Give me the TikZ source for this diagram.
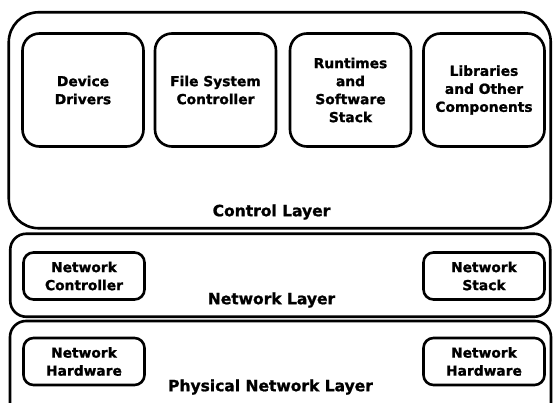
\documentclass[tikz,border=0pt]{standalone}
\usepackage{fontspec}
\setmainfont[BoldFeatures={FakeBold=1.2}]{DejaVu Sans}
\begin{document}
\begin{tikzpicture}[x=1pt,y=-1pt,
  every node/.style={font=\bfseries},
  layerbox/.style={draw, line width=2.6pt, rectangle, inner sep=0pt},
  compbox/.style={draw, line width=2.6pt, rectangle, rounded corners=17pt,
    minimum width=121pt, minimum height=113pt, align=center,
    font=\fontsize{13.8}{18}\selectfont\bfseries},
  netbox/.style={draw, line width=2.6pt, rectangle, rounded corners=10pt,
    minimum width=121pt, minimum height=47pt, align=center,
    font=\fontsize{13.8}{18}\selectfont\bfseries},
  layerlabel/.style={font=\fontsize{15.5}{18}\selectfont\bfseries}]
\clip (0,0) rectangle (554,403);
\fill[white] (0,0) rectangle (554,403);

% the three stacked layers
\node[layerbox, rounded corners=30pt, minimum width=542pt, minimum height=216pt]
  (control) at (279.75,120.25) {};
\node[layerbox, rounded corners=16pt, minimum width=540pt, minimum height=83pt]
  (network) at (280.25,275.25) {};
\node[layerbox, rounded corners=16pt, minimum width=541pt, minimum height=100pt]
  (physical) at (280.5,371) {};

% control layer components
\node[compbox] (drivers) at (83,90) {Device\\Drivers};
\node[compbox] (fsctl) at (215.5,90) {File System\\Controller};
\node[compbox] (runtime) at (350.5,90) {Runtimes\\and\\Software\\Stack};
\node[compbox] (libs) at (484,90) {Libraries\\and Other\\Components};
\node[layerlabel] (controllabel) at (271.5,212) {Control Layer};

% network layer components
\node[netbox] (netctl) at (84,276) {Network\\Controller};
\node[netbox] (netstack) at (484,276) {Network\\Stack};
\node[layerlabel] (networklabel) at (271.5,300) {Network Layer};

% physical layer components
\node[netbox] (hwleft) at (84,361.5) {Network\\Hardware};
\node[netbox] (hwright) at (484,361.5) {Network\\Hardware};
\node[layerlabel] (physlabel) at (270.5,387) {Physical Network Layer};
\end{tikzpicture}
\end{document}
